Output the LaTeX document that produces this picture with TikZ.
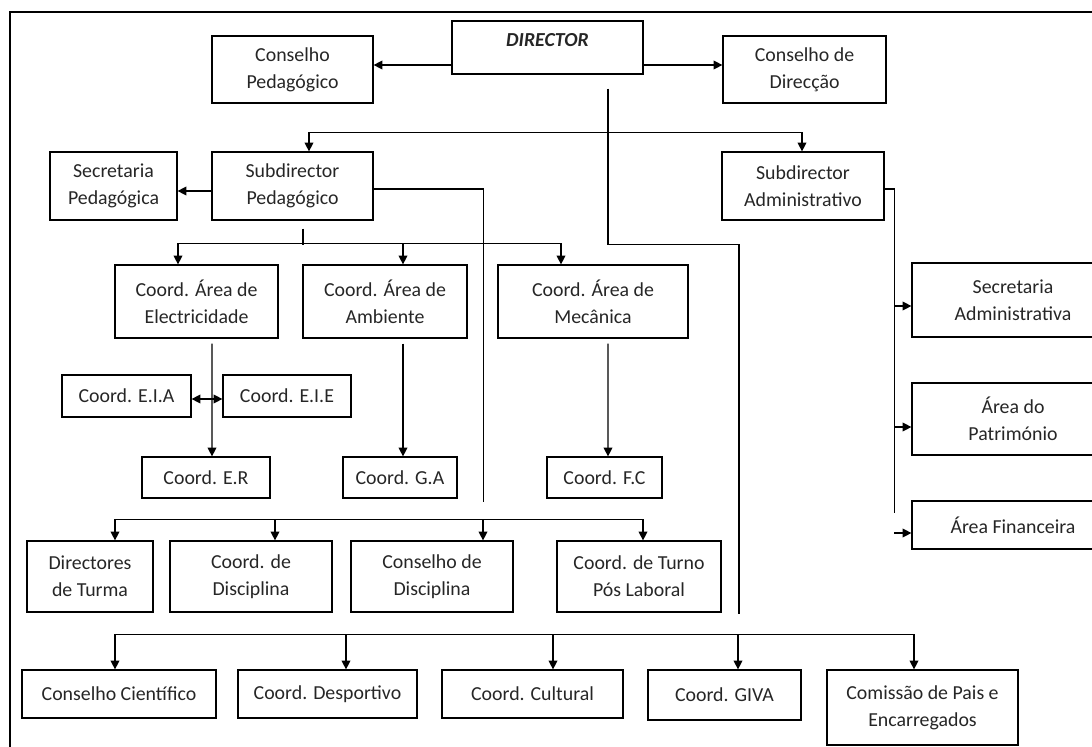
\documentclass[tikz,border=0pt]{standalone}
\usepackage{fontspec}
\setmainfont{Carlito}
\usetikzlibrary{arrows.meta,calc}

\tikzset{
 BoxStyle/.style = {draw, line width=0.7pt, align=center, inner sep=1pt,
   font=\fontsize{11.3pt}{15.3pt}\selectfont, text=black!85},
 BoxSize/.style 2 args = {minimum width=#1*0.02cm, minimum height=#2*0.02cm},
 EdgeStyle/.style = {line width=0.7pt},
 EdgeArrow/.style = {EdgeStyle, -{Triangle[length=5pt,width=5pt]}},
}

\begin{document}
\begin{tikzpicture}[x=0.02cm, y=-0.02cm]
\clip (0,0) rectangle (1092,747);
\useasboundingbox (0,0) rectangle (1092,747);

% frame
\draw[line width=1.1pt] (10,747) -- (10,12) -- (1092,12);

% top
\node[BoxStyle, BoxSize={191}{53}, text height=8pt, text depth=9.7pt] (DIR) at (547.5,47.5) {\textbf{\textit{DIRECTOR}}};
\node[BoxStyle, BoxSize={161}{67}] (ConsPed) at (292.5,69.5) {Conselho\\Pedagógico};
\node[BoxStyle, BoxSize={163}{67}] (ConsDir) at (804.5,69.5) {Conselho de\\Direcção};

% subdirectors
\node[BoxStyle, BoxSize={161}{68}] (SubPed) at (292.5,186) {Subdirector\\Pedagógico};
\node[BoxStyle, BoxSize={127}{68}] (SecPed) at (113.5,186) {Secretaria\\Pedagógica};
\node[BoxStyle, BoxSize={162}{68}] (SubAdm) at (803,186) {Subdirector\\Administrativo};

% areas
\node[BoxStyle, BoxSize={163}{73}] (Elec) at (196.5,301.5) {Coord. Área de\\Electricidade};
\node[BoxStyle, BoxSize={164}{73}] (Amb) at (385,301.5) {Coord. Área de\\Ambiente};
\node[BoxStyle, BoxSize={190}{73}] (Mec) at (593,301.5) {Coord. Área de\\Mecânica};

\node[BoxStyle, BoxSize={129}{42}] (EIA) at (126.5,396) {Coord. E.I.A};
\node[BoxStyle, BoxSize={128}{42}] (EIE) at (287,396) {Coord. E.I.E};
\node[BoxStyle, BoxSize={128}{41}] (ER) at (206,477.5) {Coord. E.R};
\node[BoxStyle, BoxSize={114}{41}] (GA) at (400,477.5) {Coord. G.A};
\node[BoxStyle, BoxSize={115}{41}] (FC) at (604.5,477.5) {Coord. F.C};

% administrative side
\node[BoxStyle, BoxSize={202}{74}] (SecAdm) at (1013,300) {Secretaria\\Administrativa};
\node[BoxStyle, BoxSize={202}{72}] (Patr) at (1013,419) {Área do\\Património};
\node[BoxStyle, BoxSize={202}{48}] (Fin) at (1013,525) {Área Financeira};

% row 6
\node[BoxStyle, BoxSize={126}{71}] (Turma) at (90,576.5) {Directores\\de Turma};
\node[BoxStyle, BoxSize={162}{71}] (CoordDisc) at (251,576.5) {Coord. de\\Disciplina};
\node[BoxStyle, BoxSize={162}{71}] (ConsDisc) at (432,576.5) {Conselho de\\Disciplina};
\node[BoxStyle, BoxSize={164}{71}] (Turno) at (639,576.5) {Coord. de Turno\\Pós Laboral};

% row 7
\node[BoxStyle, BoxSize={194}{48}] (Cient) at (119,694) {Conselho Científico};
\node[BoxStyle, BoxSize={179}{48}] (Desp) at (327.5,694) {Coord. Desportivo};
\node[BoxStyle, BoxSize={181}{48}] (Cult) at (532.5,694) {Coord. Cultural};
\node[BoxStyle, BoxSize={153}{50}] (GIVA) at (724.5,695) {Coord. GIVA};
\node[BoxStyle, BoxSize={191}{75}] (Comis) at (922.5,707.5) {Comissão de Pais e\\Encarregados};

% helper points
\path (DIR.west) ++(0,17.5) coordinate (dir-l);
\path (DIR.east) ++(0,17.5) coordinate (dir-r);
\path (DIR.south) ++(60.5,14) coordinate (dir-s);
\path (SubAdm.north) ++(-1,-19) coordinate (bus2);
\path (SubPed.west) ++(0,5) coordinate (sp-l);
\path (SubPed.east) ++(0,3) coordinate (sp-r);
\path (SubAdm.east) ++(0,3) coordinate (sa-r);

% director
\draw[EdgeArrow] (dir-l) -- (dir-l -| ConsPed.east);
\draw[EdgeArrow] (dir-r) -- (dir-r -| ConsDir.west);
\draw[EdgeStyle] (dir-s) |- ++(131,156) -- ++(0,369);
\draw[EdgeArrow] (bus2) -- (SubAdm.north -| bus2);
\draw[EdgeArrow] (bus2) -| ($(SubPed.north)+(16.5,0)$);

% pedagogical side
\draw[EdgeArrow] (sp-l) -- (sp-l -| SecPed.east);
\draw[EdgeStyle] (sp-r) -| ++(110,313);
\draw[EdgeStyle] ($(SubPed.south)+(10.5,8)$) -- ++(0,16);
\draw[EdgeStyle] ($(Elec.north)+(-18.5,-21)$) -- ($(Mec.north)+(-32,-21)$);
\foreach \n/\dx in {Elec/-18.5, Amb/18, Mec/-32}
  \draw[EdgeArrow] ($(\n.north)+(\dx,-21)$) -- ++(0,21);

\draw[EdgeArrow] ($(Elec.south)+(15.5,5)$) -- ($(ER.north)+(6,0)$);
\draw[EdgeStyle, {Triangle[length=5pt,width=5pt]}-{Triangle[length=5pt,width=5pt]}]
  ($(EIA.east)+(0,3)$) -- ($(EIE.west)+(0,3)$);
\draw[EdgeArrow] ($(Amb.south)+(18,5)$) -- ($(GA.north)+(3,0)$);
\draw[EdgeArrow] ($(Mec.south)+(15,5)$) -- ($(FC.north)+(3.5,0)$);

\draw[EdgeStyle] ($(Turma.north)+(25,-21)$) -- ($(Turno.north)+(4,-21)$);
\foreach \n/\dx in {Turma/25, CoordDisc/24, ConsDisc/51, Turno/4}
  \draw[EdgeArrow] ($(\n.north)+(\dx,-21)$) -- ++(0,21);

% administrative side
\draw[EdgeStyle] (sa-r) -| ++(10,324);
\foreach \n/\dy in {SecAdm/6, Patr/8, Fin/8}
  \draw[EdgeArrow] ($(\n.west)+(-17,\dy)$) -- ++(17,0);

% bottom row
\draw[EdgeStyle] ($(Cient.north)+(-4,-35)$) -- ($(Comis.north)+(-8.5,-35)$);
\foreach \n/\dx in {Cient/-4, Desp/18.5, Cult/20.5, GIVA/13.5, Comis/-8.5}
  \draw[EdgeArrow] ($(\n.north)+(\dx,-35)$) -- ++(0,35);

\end{tikzpicture}
\end{document}
